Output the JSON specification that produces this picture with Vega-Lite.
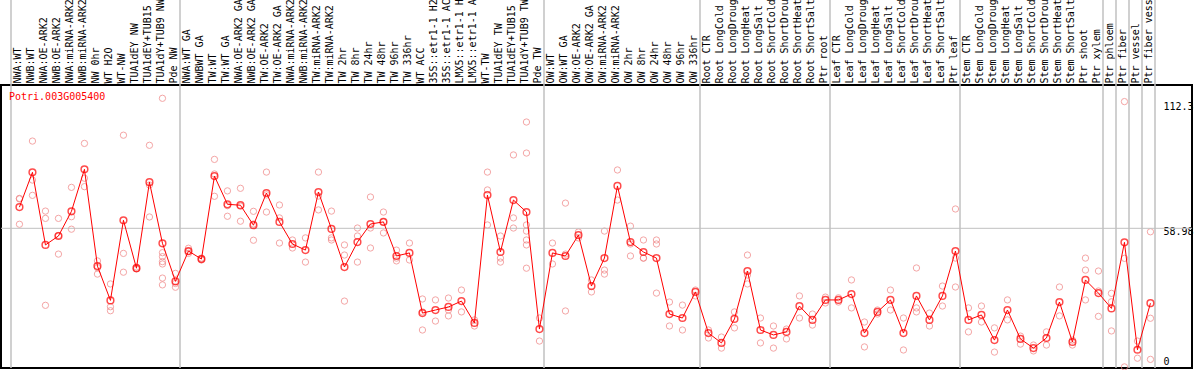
{
"$schema": "https://vega.github.io/schema/vega-lite/v6.json",
"width": 1191, "height": 283,
"autosize": {"type": "none"},
"padding": {"left": 1, "top": 85, "right": 2, "bottom": 2},
"background": "white",
"config": {"view": {"stroke": "black", "strokeWidth": 2}, "font": "DejaVu Sans Mono"},
"datasets": {
"means": [
{"s":"NWA:WT","v":68.0},{"s":"NWB:WT","v":82.8},{"s":"NWA:OE-ARK2","v":51.9},{"s":"NWB:OE-ARK2","v":55.7},{"s":"NWA:miRNA-ARK2","v":66.2},{"s":"NWB:miRNA-ARK2","v":84.1},{"s":"NW 0hr","v":42.9},{"s":"WT H2O","v":28.3},{"s":"WT-NW","v":62.4},{"s":"TUA1dEY NW","v":42.0},{"s":"TUA1dEY+TUB15 NW","v":78.6},{"s":"TUA1dY+TUB9 NW","v":52.6},{"s":"Pde NW","v":36.4},
{"s":"NWA:WT GA","v":49.3},{"s":"NWBWT GA","v":45.9},{"s":"TW:WT","v":81.2},{"s":"TW:WT GA","v":69.2},{"s":"NWA:OE-ARK2 GA","v":68.8},{"s":"NWB:OE-ARK2 GA","v":60.3},{"s":"TW:OE-ARK2","v":74.0},{"s":"TW:OE-ARK2 GA","v":61.7},{"s":"NWA:miRNA-ARK2 GA","v":52.3},{"s":"NWB:miRNA-ARK2 GA","v":49.7},{"s":"TW:miRNA-ARK2","v":74.4},{"s":"TW:miRNA-ARK2 ","v":58.7},{"s":"TW 2hr","v":42.5},{"s":"TW 8hr","v":53.1},{"s":"TW 24hr","v":60.8},{"s":"TW 48hr","v":61.7},{"s":"TW 96hr","v":47.2},{"s":"TW 336hr","v":48.5},{"s":"WT ACC","v":22.9},{"s":"35S::etr1-1 H2O","v":24.2},{"s":"35S::etr1-1 ACC","v":25.5},{"s":"LMX5::etr1-1 H2O","v":28.0},{"s":"LMX5::etr1-1 ACC","v":18.7},{"s":"WT-TW","v":73.1},{"s":"TUA1dEY TW","v":48.9},{"s":"TUA1dEY+TUB15 TW","v":71.0},{"s":"TUA1dY+TUB9 TW","v":65.9},{"s":"Pde TW","v":16.1},
{"s":"OW:WT","v":48.5},{"s":"OW:WT GA","v":47.2},{"s":"OW:OE-ARK2","v":56.1},{"s":"OW:OE-ARK2 GA","v":34.4},{"s":"OW:miRNA-ARK2","v":46.3},{"s":"OW:miRNA-ARK2 ","v":77.0},{"s":"OW 2hr","v":53.1},{"s":"OW 8hr","v":48.9},{"s":"OW 24hr","v":46.3},{"s":"OW 48hr","v":22.5},{"s":"OW 96hr","v":20.8},{"s":"OW 336hr","v":31.9},
{"s":"Root CTR","v":14.4},{"s":"Root LongCold","v":10.2},{"s":"Root LongDrought","v":20.4},{"s":"Root LongHeat","v":40.8},{"s":"Root LongSalt","v":15.7},{"s":"Root ShortCold","v":13.6},{"s":"Root ShortDrought","v":14.9},{"s":"Root ShortHeat","v":25.9},{"s":"Root ShortSalt","v":20.0},{"s":"Ptr root","v":28.5},
{"s":"Leaf CTR","v":28.5},{"s":"Leaf LongCold","v":31.0},{"s":"Leaf LongDrought","v":14.4},{"s":"Leaf LongHeat","v":23.4},{"s":"Leaf LongSalt","v":28.5},{"s":"Leaf ShortCold","v":14.4},{"s":"Leaf ShortDrought","v":30.2},{"s":"Leaf ShortHeat","v":20.0},{"s":"Leaf ShortSalt","v":30.2},{"s":"Ptr leaf","v":49.3},
{"s":"Stem CTR","v":20.0},{"s":"Stem LongCold","v":22.1},{"s":"Stem LongDrought","v":11.4},{"s":"Stem LongHeat","v":24.2},{"s":"Stem LongSalt","v":11.9},{"s":"Stem ShortCold","v":8.0},{"s":"Stem ShortDrought","v":12.3},{"s":"Stem ShortHeat","v":27.6},{"s":"Stem ShortSalt","v":10.6},{"s":"Ptr shoot","v":37.0},{"s":"Ptr xylem","v":31.4},{"s":"Ptr phloem","v":24.9},{"s":"Ptr fiber","v":53.0},{"s":"Ptr vessel","v":7.3},{"s":"Ptr fiber vessel","v":27.1}
],
"reps": [
{"s":"NWA:WT","v":71.7},{"s":"NWA:WT","v":71.5},{"s":"NWA:WT","v":60.7},
{"s":"NWB:WT","v":96.1},{"s":"NWB:WT","v":79.5},{"s":"NWB:WT","v":73.0},
{"s":"NWA:OE-ARK2","v":66.3},{"s":"NWA:OE-ARK2","v":63.2},{"s":"NWA:OE-ARK2","v":26.2},
{"s":"NWB:OE-ARK2","v":63.2},{"s":"NWB:OE-ARK2","v":48.0},{"s":"NWB:OE-ARK2","v":55.9},
{"s":"NWA:miRNA-ARK2","v":76.4},{"s":"NWA:miRNA-ARK2","v":63.9},{"s":"NWA:miRNA-ARK2","v":58.6},
{"s":"NWB:miRNA-ARK2","v":95.1},{"s":"NWB:miRNA-ARK2","v":80.3},{"s":"NWB:miRNA-ARK2","v":76.7},
{"s":"NW 0hr","v":45.1},{"s":"NW 0hr","v":42.2},{"s":"NW 0hr","v":39.5},
{"s":"WT H2O","v":35.3},{"s":"WT H2O","v":25.6},{"s":"WT H2O","v":23.9},
{"s":"WT-NW","v":98.6},{"s":"WT-NW","v":48.3},{"s":"WT-NW","v":40.3},
{"s":"TUA1dEY NW","v":42.5},{"s":"TUA1dEY NW","v":41.8},{"s":"TUA1dEY NW","v":41.7},
{"s":"TUA1dEY+TUB15 NW","v":94.3},{"s":"TUA1dEY+TUB15 NW","v":77.4},{"s":"TUA1dEY+TUB15 NW","v":63.8},
{"s":"TUA1dY+TUB9 NW","v":114.3},{"s":"TUA1dY+TUB9 NW","v":48.6},{"s":"TUA1dY+TUB9 NW","v":46.9},{"s":"TUA1dY+TUB9 NW","v":44.8},{"s":"TUA1dY+TUB9 NW","v":43.8},{"s":"TUA1dY+TUB9 NW","v":37.8},{"s":"TUA1dY+TUB9 NW","v":34.9},
{"s":"Pde NW","v":39.8},{"s":"Pde NW","v":33.9},{"s":"Pde NW","v":35.5},
{"s":"NWA:WT GA","v":50.5},{"s":"NWA:WT GA","v":48.3},{"s":"NWA:WT GA","v":49.1},
{"s":"NWBWT GA","v":46.3},{"s":"NWBWT GA","v":45.9},{"s":"NWBWT GA","v":45.5},
{"s":"TW:WT","v":88.3},{"s":"TW:WT","v":82.1},{"s":"TW:WT","v":72.6},
{"s":"TW:WT GA","v":74.9},{"s":"TW:WT GA","v":64.1},{"s":"TW:WT GA","v":68.6},
{"s":"NWA:OE-ARK2 GA","v":76.0},{"s":"NWA:OE-ARK2 GA","v":62.0},{"s":"NWA:OE-ARK2 GA","v":68.4},
{"s":"NWB:OE-ARK2 GA","v":66.2},{"s":"NWB:OE-ARK2 GA","v":53.9},{"s":"NWB:OE-ARK2 GA","v":60.8},
{"s":"TW:OE-ARK2","v":82.9},{"s":"TW:OE-ARK2","v":65.9},{"s":"TW:OE-ARK2","v":73.2},
{"s":"TW:OE-ARK2 GA","v":68.9},{"s":"TW:OE-ARK2 GA","v":63.4},{"s":"TW:OE-ARK2 GA","v":52.7},
{"s":"NWA:miRNA-ARK2 GA","v":54.0},{"s":"NWA:miRNA-ARK2 GA","v":50.6},
{"s":"NWB:miRNA-ARK2 GA","v":54.9},{"s":"NWB:miRNA-ARK2 GA","v":44.6},
{"s":"TW:miRNA-ARK2","v":82.9},{"s":"TW:miRNA-ARK2","v":72.7},{"s":"TW:miRNA-ARK2","v":66.8},
{"s":"TW:miRNA-ARK2 ","v":66.3},{"s":"TW:miRNA-ARK2 ","v":54.9},{"s":"TW:miRNA-ARK2 ","v":54.0},
{"s":"TW 2hr","v":28.0},{"s":"TW 2hr","v":47.6},{"s":"TW 2hr","v":51.9},
{"s":"TW 8hr","v":59.1},{"s":"TW 8hr","v":44.6},{"s":"TW 8hr","v":55.7},
{"s":"TW 24hr","v":72.3},{"s":"TW 24hr","v":59.1},{"s":"TW 24hr","v":50.6},
{"s":"TW 48hr","v":65.9},{"s":"TW 48hr","v":61.7},{"s":"TW 48hr","v":57.0},
{"s":"TW 96hr","v":49.7},{"s":"TW 96hr","v":46.3},{"s":"TW 96hr","v":45.1},
{"s":"TW 336hr","v":52.7},{"s":"TW 336hr","v":45.5},
{"s":"WT ACC","v":28.9},{"s":"WT ACC","v":23.4},{"s":"WT ACC","v":15.7},
{"s":"35S::etr1-1 H2O","v":28.5},{"s":"35S::etr1-1 H2O","v":19.5},
{"s":"35S::etr1-1 ACC","v":29.3},{"s":"35S::etr1-1 ACC","v":24.2},{"s":"35S::etr1-1 ACC","v":21.7},
{"s":"LMX5::etr1-1 H2O","v":32.7},{"s":"LMX5::etr1-1 H2O","v":23.4},
{"s":"LMX5::etr1-1 ACC","v":20.0},{"s":"LMX5::etr1-1 ACC","v":17.4},
{"s":"WT-TW","v":82.9},{"s":"WT-TW","v":75.3},{"s":"WT-TW","v":60.4},
{"s":"TUA1dEY TW","v":55.7},{"s":"TUA1dEY TW","v":44.6},{"s":"TUA1dEY TW","v":46.3},
{"s":"TUA1dEY+TUB15 TW","v":90.2},{"s":"TUA1dEY+TUB15 TW","v":63.4},{"s":"TUA1dEY+TUB15 TW","v":59.1},
{"s":"TUA1dY+TUB9 TW","v":104.2},{"s":"TUA1dY+TUB9 TW","v":91.0},{"s":"TUA1dY+TUB9 TW","v":60.4},{"s":"TUA1dY+TUB9 TW","v":57.8},{"s":"TUA1dY+TUB9 TW","v":54.0},{"s":"TUA1dY+TUB9 TW","v":51.9},{"s":"TUA1dY+TUB9 TW","v":42.0},
{"s":"Pde TW","v":20.8},{"s":"Pde TW","v":11.0},
{"s":"OW:WT","v":52.7},{"s":"OW:WT","v":43.8},
{"s":"OW:WT GA","v":69.7},{"s":"OW:WT GA","v":23.8},{"s":"OW:WT GA","v":48.0},
{"s":"OW:OE-ARK2","v":57.4},{"s":"OW:OE-ARK2","v":54.9},
{"s":"OW:OE-ARK2 GA","v":37.0},{"s":"OW:OE-ARK2 GA","v":31.9},
{"s":"OW:miRNA-ARK2","v":57.8},{"s":"OW:miRNA-ARK2","v":41.2},{"s":"OW:miRNA-ARK2","v":39.5},
{"s":"OW:miRNA-ARK2 ","v":83.8},{"s":"OW:miRNA-ARK2 ","v":71.0},
{"s":"OW 2hr","v":59.9},{"s":"OW 2hr","v":47.2},{"s":"OW 2hr","v":52.3},
{"s":"OW 8hr","v":54.0},{"s":"OW 8hr","v":46.3},{"s":"OW 8hr","v":46.3},
{"s":"OW 24hr","v":54.0},{"s":"OW 24hr","v":52.3},{"s":"OW 24hr","v":31.4},
{"s":"OW 48hr","v":27.6},{"s":"OW 48hr","v":17.4},
{"s":"OW 96hr","v":26.3},{"s":"OW 96hr","v":15.7},
{"s":"OW 336hr","v":32.7},{"s":"OW 336hr","v":30.2},
{"s":"Root CTR","v":15.7},{"s":"Root CTR","v":12.3},
{"s":"Root LongCold","v":12.7},{"s":"Root LongCold","v":8.0},
{"s":"Root LongDrought","v":23.4},{"s":"Root LongDrought","v":16.6},
{"s":"Root LongHeat","v":47.6},{"s":"Root LongHeat","v":35.3},{"s":"Root LongHeat","v":39.1},
{"s":"Root LongSalt","v":20.8},{"s":"Root LongSalt","v":10.2},
{"s":"Root ShortCold","v":17.4},{"s":"Root ShortCold","v":8.0},
{"s":"Root ShortDrought","v":16.1},{"s":"Root ShortDrought","v":11.9},
{"s":"Root ShortHeat","v":30.2},{"s":"Root ShortHeat","v":20.8},
{"s":"Root ShortSalt","v":22.5},{"s":"Root ShortSalt","v":17.8},
{"s":"Ptr root","v":29.7},{"s":"Ptr root","v":27.2},
{"s":"Leaf CTR","v":29.4},{"s":"Leaf CTR","v":27.6},
{"s":"Leaf LongCold","v":37.0},{"s":"Leaf LongCold","v":25.1},
{"s":"Leaf LongDrought","v":19.1},{"s":"Leaf LongDrought","v":8.5},
{"s":"Leaf LongHeat","v":24.2},{"s":"Leaf LongHeat","v":22.5},
{"s":"Leaf LongSalt","v":32.7},{"s":"Leaf LongSalt","v":24.2},
{"s":"Leaf ShortCold","v":20.8},{"s":"Leaf ShortCold","v":7.2},
{"s":"Leaf ShortDrought","v":42.1},{"s":"Leaf ShortDrought","v":23.4},{"s":"Leaf ShortDrought","v":25.1},
{"s":"Leaf ShortHeat","v":22.9},{"s":"Leaf ShortHeat","v":17.4},
{"s":"Leaf ShortSalt","v":34.4},{"s":"Leaf ShortSalt","v":25.9},
{"s":"Ptr leaf","v":67.2},{"s":"Ptr leaf","v":34.0},{"s":"Ptr leaf","v":46.3},
{"s":"Stem CTR","v":25.1},{"s":"Stem CTR","v":14.9},
{"s":"Stem LongCold","v":25.9},{"s":"Stem LongCold","v":19.1},
{"s":"Stem LongDrought","v":16.6},{"s":"Stem LongDrought","v":6.3},
{"s":"Stem LongHeat","v":28.5},{"s":"Stem LongHeat","v":20.0},
{"s":"Stem LongSalt","v":13.1},{"s":"Stem LongSalt","v":9.7},
{"s":"Stem ShortCold","v":9.3},{"s":"Stem ShortCold","v":6.8},
{"s":"Stem ShortDrought","v":14.9},{"s":"Stem ShortDrought","v":9.3},
{"s":"Stem ShortHeat","v":34.0},{"s":"Stem ShortHeat","v":21.7},
{"s":"Stem ShortSalt","v":11.4},{"s":"Stem ShortSalt","v":9.3},
{"s":"Ptr shoot","v":46.3},{"s":"Ptr shoot","v":41.2},{"s":"Ptr shoot","v":28.5},
{"s":"Ptr xylem","v":40.8},{"s":"Ptr xylem","v":32.3},{"s":"Ptr xylem","v":21.5},
{"s":"Ptr phloem","v":31.3},{"s":"Ptr phloem","v":27.7},{"s":"Ptr phloem","v":15.3},
{"s":"Ptr fiber","v":112.9},{"s":"Ptr fiber","v":46.2},{"s":"Ptr fiber","v":0.0},
{"s":"Ptr vessel","v":11.0},{"s":"Ptr vessel","v":3.7},
{"s":"Ptr fiber vessel","v":57.5},{"s":"Ptr fiber vessel","v":20.7},{"s":"Ptr fiber vessel","v":3.2}
],
"seps": [{"s":"NWA:WT"},{"s":"NWA:WT GA"},{"s":"OW:WT"},{"s":"Root CTR"},{"s":"Leaf CTR"},{"s":"Stem CTR"},{"s":"Ptr phloem"},{"s":"Ptr fiber"},{"s":"Ptr vessel"},{"s":"Ptr fiber vessel"}]
},
"layer": [
{"data": {"name": "reps"},
 "mark": {"type": "point", "filled": false, "color": "#f08080", "size": 40, "strokeWidth": 1},
 "encoding": {
  "x": {"field": "s", "type": "nominal", "bandPosition": 0.65, "title": null,
   "scale": {"type": "band", "paddingInner": 0, "paddingOuter": 0, "range": [10, 1154],
    "domain": ["NWA:WT","NWB:WT","NWA:OE-ARK2","NWB:OE-ARK2","NWA:miRNA-ARK2","NWB:miRNA-ARK2","NW 0hr","WT H2O","WT-NW","TUA1dEY NW","TUA1dEY+TUB15 NW","TUA1dY+TUB9 NW","Pde NW","NWA:WT GA","NWBWT GA","TW:WT","TW:WT GA","NWA:OE-ARK2 GA","NWB:OE-ARK2 GA","TW:OE-ARK2","TW:OE-ARK2 GA","NWA:miRNA-ARK2 GA","NWB:miRNA-ARK2 GA","TW:miRNA-ARK2","TW:miRNA-ARK2 ","TW 2hr","TW 8hr","TW 24hr","TW 48hr","TW 96hr","TW 336hr","WT ACC","35S::etr1-1 H2O","35S::etr1-1 ACC","LMX5::etr1-1 H2O","LMX5::etr1-1 ACC","WT-TW","TUA1dEY TW","TUA1dEY+TUB15 TW","TUA1dY+TUB9 TW","Pde TW","OW:WT","OW:WT GA","OW:OE-ARK2","OW:OE-ARK2 GA","OW:miRNA-ARK2","OW:miRNA-ARK2 ","OW 2hr","OW 8hr","OW 24hr","OW 48hr","OW 96hr","OW 336hr","Root CTR","Root LongCold","Root LongDrought","Root LongHeat","Root LongSalt","Root ShortCold","Root ShortDrought","Root ShortHeat","Root ShortSalt","Ptr root","Leaf CTR","Leaf LongCold","Leaf LongDrought","Leaf LongHeat","Leaf LongSalt","Leaf ShortCold","Leaf ShortDrought","Leaf ShortHeat","Leaf ShortSalt","Ptr leaf","Stem CTR","Stem LongCold","Stem LongDrought","Stem LongHeat","Stem LongSalt","Stem ShortCold","Stem ShortDrought","Stem ShortHeat","Stem ShortSalt","Ptr shoot","Ptr xylem","Ptr phloem","Ptr fiber","Ptr vessel","Ptr fiber vessel"]},
   "axis": {"orient": "top", "title": null, "labelAngle": 270, "labelAlign": "left", "labelBaseline": "middle", "labelPadding": 2, "ticks": false, "tickSize": 0, "domain": false, "grid": false, "labelFont": "DejaVu Sans Mono", "labelFontSize": 10, "labelColor": "black", "labelOverlap": false, "labelLimit": 0, "labelBound": false}},
  "y": {"field": "v", "type": "quantitative", "title": null, "scale": {"domain": [-0.47, 119.96], "nice": false, "zero": false},
   "axis": {"orient": "right", "offset": -37, "title": null, "values": [0, 58.98, 112.3], "labelExpr": "datum.value + ''", "ticks": false, "tickSize": 0, "domain": false, "grid": false, "labelPadding": 8, "labelFlush": false, "labelBaseline": "middle", "labelOffset": {"condition": {"test": "datum.value == 0", "value": -5}, "value": 3.5}, "labelFont": "DejaVu Sans Mono", "labelFontSize": 10, "labelColor": "black"}}}},
{"data": {"values": [{"v": 58.98}]},
 "mark": {"type": "rule", "color": "#c0c0c0", "strokeWidth": 1},
 "encoding": {"y": {"field": "v", "type": "quantitative", "title": null}}},
{"data": {"name": "seps"},
 "mark": {"type": "rule", "color": "#c0c0c0", "strokeWidth": 1.5, "clip": false},
 "encoding": {
  "x": {"field": "s", "type": "nominal", "bandPosition": 0, "title": null},
  "y": {"datum": -0.47, "type": "quantitative"},
  "y2": {"datum": 157}}},
{"data": {"values": [{"s": "Ptr fiber vessel"}]},
 "mark": {"type": "rule", "color": "#c0c0c0", "strokeWidth": 1.5, "clip": false},
 "encoding": {
  "x": {"field": "s", "type": "nominal", "bandPosition": 1, "title": null},
  "y": {"datum": -0.47, "type": "quantitative"},
  "y2": {"datum": 157}}},
{"data": {"name": "means"},
 "mark": {"type": "line", "color": "#ff0000", "strokeWidth": 1},
 "encoding": {
  "x": {"field": "s", "type": "nominal", "bandPosition": 0.65, "sort": null, "title": null},
  "y": {"field": "v", "type": "quantitative", "title": null}}},
{"data": {"name": "means"},
 "mark": {"type": "point", "filled": false, "color": "#ff0000", "size": 45, "strokeWidth": 1.5},
 "encoding": {
  "x": {"field": "s", "type": "nominal", "bandPosition": 0.65, "title": null},
  "y": {"field": "v", "type": "quantitative", "title": null}}},
{"data": {"values": [{"s": "NWA:WT", "gene": "Potri.003G005400"}]},
 "mark": {"type": "text", "color": "#ff0000", "align": "left", "baseline": "middle", "dx": -2, "font": "DejaVu Sans Mono", "fontSize": 10},
 "encoding": {
  "x": {"field": "s", "type": "nominal", "bandPosition": 0, "title": null},
  "y": {"datum": 115, "type": "quantitative"},
  "text": {"field": "gene"}}}
]
}
